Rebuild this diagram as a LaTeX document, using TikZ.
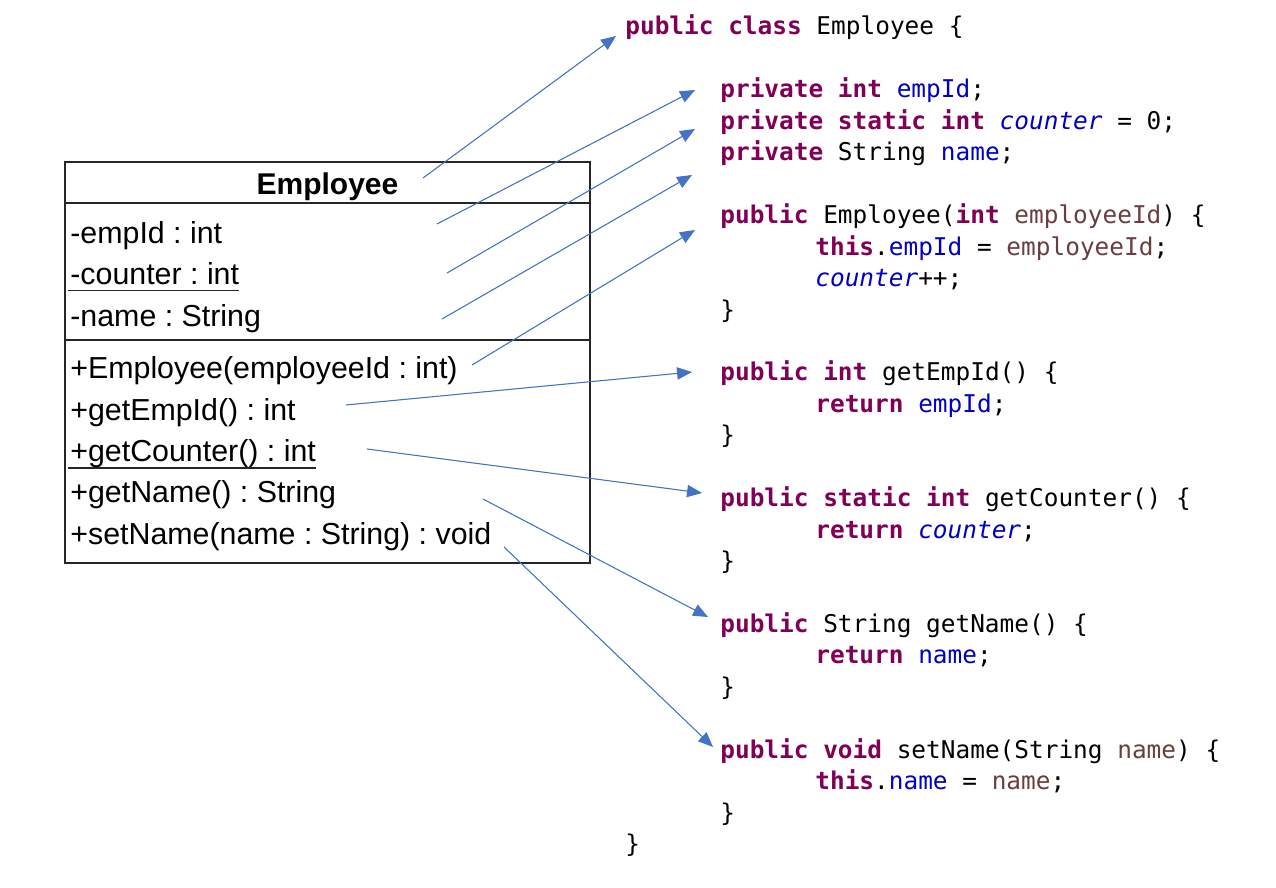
\documentclass[tikz,border=0pt]{standalone}
\usepackage{fontspec}
\usepackage{xcolor}
\setmainfont{Liberation Sans}
\newfontfamily\codefont{DejaVu Sans Mono}
\usetikzlibrary{arrows.meta}
\definecolor{kwpurple}{RGB}{127,0,85}
\definecolor{fieldblue}{RGB}{0,0,192}
\definecolor{varbrown}{RGB}{106,62,62}
\definecolor{linkblue}{RGB}{68,114,196}
\newcommand{\jkw}[1]{\textcolor{kwpurple}{\bfseries #1}}
\newcommand{\jfld}[1]{\textcolor{fieldblue}{#1}}
\newcommand{\jsfld}[1]{\textcolor{fieldblue}{\itshape #1}}
\newcommand{\jvar}[1]{\textcolor{varbrown}{#1}}
\frenchspacing

\begin{document}
\begin{tikzpicture}[x=0.02cm, y=-0.02cm,
        code/.style={anchor=base west,inner sep=0pt,font=\codefont\fontsize{13.9}{16}\selectfont},
        member/.style={anchor=base west,inner sep=0pt,font=\fontsize{17.28}{20}\selectfont},
        boxline/.style={line width=1.4pt,draw=black!85},
        uline/.style={line width=0.9pt,draw=black!85},
        link/.style={-{Triangle[length=8.5pt,width=7pt]},draw=linkblue,fill=linkblue,line width=0.6pt}]
        \useasboundingbox (0,0) rectangle (1276,888);
        % UML class box
        \draw[boxline] (65,162) rectangle (590,563);
        \draw[boxline] (65,203) -- (590,203);
        \draw[boxline] (65,340) -- (590,340);
        \node[member,anchor=base,font=\fontsize{17.07}{20}\selectfont\bfseries] (cname) at (327.5,195) {Employee};
        \node[member] (aid) at (70,244) {-empId : int};
        \node[member] (acnt) at (70,285) {-counter : int};
        \node[member] (aname) at (70,327) {-name : String};
        \node[member] (mctor) at (70,379) {+Employee(employeeId : int)};
        \node[member] (mgetid) at (70,420.5) {+getEmpId() : int};
        \node[member] (mgetcnt) at (70,462) {+getCounter() : int};
        \node[member] (mgetname) at (70,503) {+getName() : String};
        \node[member] (msetname) at (70,544.5) {+setName(name : String) : void};
        \draw[uline] ([xshift=-1.2pt,yshift=-3.1pt]acnt.base west) -- ([yshift=-3.1pt]acnt.base east);
        \draw[uline] ([xshift=-1.2pt,yshift=-3.4pt]mgetcnt.base west) -- ([yshift=-3.4pt]mgetcnt.base east);
        % Java source
        \node[code] (cclass) at (625,35) {\jkw{public} \jkw{class} Employee \{};
        \node[code] (cempid) at (720,97.9) {\jkw{private} \jkw{int} \jfld{empId};};
        \node[code] (ccounter) at (720,129.35) {\jkw{private} \jkw{static} \jkw{int} \jsfld{counter} = 0;};
        \node[code] (cname2) at (720,160.8) {\jkw{private} String \jfld{name};};
        \node[code] (cctor) at (720,223.7) {\jkw{public} Employee(\jkw{int} \jvar{employeeId}) \{};
        \node[code] (cctora) at (815,255.15) {\jkw{this}.\jfld{empId} = \jvar{employeeId};};
        \node[code] (cctorb) at (815,286.6) {\jsfld{counter}++;};
        \node[code] (cctorc) at (720,318.05) {\}};
        \node[code] (cgetid) at (720,380.95) {\jkw{public} \jkw{int} getEmpId() \{};
        \node[code] (cgetida) at (815,412.4) {\jkw{return} \jfld{empId};};
        \node[code] (cgetidb) at (720,443.85) {\}};
        \node[code] (cgetcnt) at (720,506.75) {\jkw{public} \jkw{static} \jkw{int} getCounter() \{};
        \node[code] (cgetcnta) at (815,538.2) {\jkw{return} \jsfld{counter};};
        \node[code] (cgetcntb) at (720,569.65) {\}};
        \node[code] (cgetname) at (720,632.55) {\jkw{public} String getName() \{};
        \node[code] (cgetnamea) at (815,664) {\jkw{return} \jfld{name};};
        \node[code] (cgetnameb) at (720,695.45) {\}};
        \node[code] (csetname) at (720,758.35) {\jkw{public} \jkw{void} setName(String \jvar{name}) \{};
        \node[code] (csetnamea) at (815,789.8) {\jkw{this}.\jfld{name} = \jvar{name};};
        \node[code] (csetnameb) at (720,821.25) {\}};
        \node[code] (cend) at (625,852.7) {\}};
        % arrow ends
        \coordinate (s1) at (423,178);  \coordinate (t1) at (616,36);
        \coordinate (s2) at (437,224);  \coordinate (t2) at (695,90);
        \coordinate (s3) at (447,273);  \coordinate (t3) at (695,129);
        \coordinate (s4) at (442,319);  \coordinate (t4) at (692,175);
        \coordinate (s5) at (472,365);  \coordinate (t5) at (695,230);
        \coordinate (s6) at (346,405);  \coordinate (t6) at (692,372);
        \coordinate (s7) at (367,449);  \coordinate (t7) at (702,493);
        \coordinate (s8) at (483,499);  \coordinate (t8) at (708,617);
        \coordinate (s9) at (504,547);  \coordinate (t9) at (713,747);
        \draw[link] (s1) -- (t1);
        \draw[link] (s2) -- (t2);
        \draw[link] (s3) -- (t3);
        \draw[link] (s4) -- (t4);
        \draw[link] (s5) -- (t5);
        \draw[link] (s6) -- (t6);
        \draw[link] (s7) -- (t7);
        \draw[link] (s8) -- (t8);
        \draw[link] (s9) -- (t9);
      \end{tikzpicture}
\end{document}
